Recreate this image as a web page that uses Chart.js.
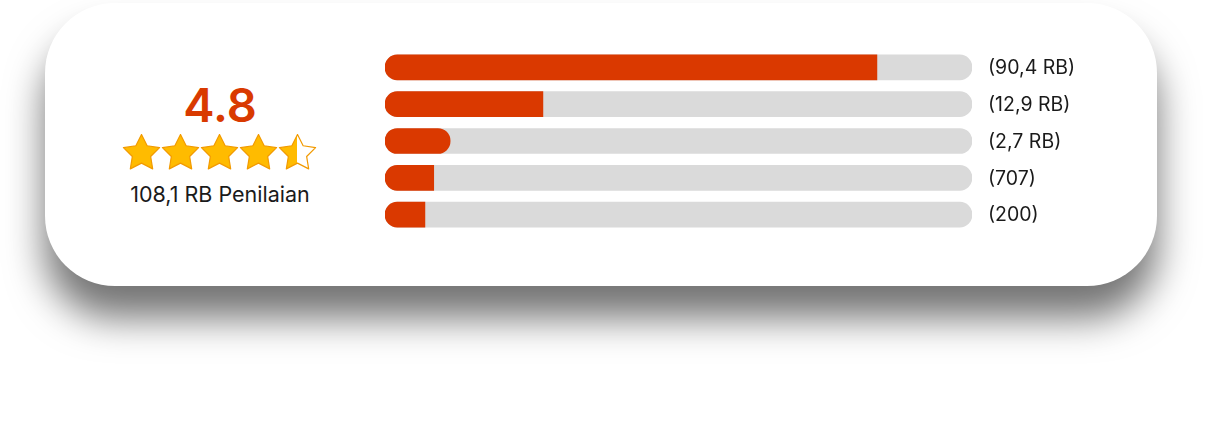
<!DOCTYPE html>
<html>
<head>
<meta charset="utf-8">
<script src="https://cdn.jsdelivr.net/npm/chart.js@4.4.1/dist/chart.umd.min.js"></script>
<style>
  html, body { margin: 0; padding: 0; background: #ffffff; }
  body { width: 1224px; height: 440px; position: relative; overflow: hidden; font-family: Inter, "Noto Sans", sans-serif; }
  #card { position: absolute; left: 45px; top: 3px; width: 1112px; height: 283px; border-radius: 70px; background: #ffffff;
          box-shadow: 0 32px 38px rgba(0,0,0,0.55); }
  #score { position: absolute; left: 100px; width: 240px; top: 81px; text-align: center; font-size: 47px; line-height: 47px; font-weight: 600; color: #D93A00; }
  #stars { position: absolute; left: 100px; top: 134px; }
  #count { position: absolute; left: 100px; width: 240px; top: 184px; text-align: center; font-size: 21.5px; line-height: 21.5px; color: #1a1a1a; }
  #chartBox { position: absolute; left: 385px; top: 49px; width: 717px; height: 184px; }
</style>
</head>
<body>
<div id="card"></div>
<div id="score"></div>
<svg id="stars" width="240" height="40" xmlns="http://www.w3.org/2000/svg"></svg>
<div id="count"></div>
<div id="chartBox"><canvas id="c"></canvas></div>
<script>
// ---- data ----
const ratingText = "4.8";
const totalText = "108,1 RB Penilaian";
const starFill = [1, 1, 1, 1, 0.5];
const categories = ["5", "4", "3", "2", "1"];
const countLabels = ["(90,4 RB)", "(12,9 RB)", "(2,7 RB)", "(707)", "(200)"];
const fillShare = [83.8, 26.9, 11.1, 8.3, 6.8];
const trackShare = [100, 100, 100, 100, 100];

// ---- left panel ----
document.getElementById('score').textContent = ratingText;
document.getElementById('count').textContent = totalText;

const svg = document.getElementById('stars');
const NS = "http://www.w3.org/2000/svg";
const R = 19, r = 9.6;
let defs = document.createElementNS(NS, 'defs');
svg.appendChild(defs);
starFill.forEach((f, i) => {
  const cx = 41.5 + i * 39, cy = 19.5;
  let pts = [];
  for (let k = 0; k < 10; k++) {
    const rad = k % 2 === 0 ? R : r;
    const a = -Math.PI / 2 + k * Math.PI / 5;
    pts.push((cx + rad * Math.cos(a)).toFixed(2) + "," + (cy + rad * Math.sin(a)).toFixed(2));
  }
  const g = document.createElementNS(NS, 'linearGradient');
  g.setAttribute('id', 'sg' + i);
  g.setAttribute('x1', '0'); g.setAttribute('x2', '1'); g.setAttribute('y1', '0'); g.setAttribute('y2', '0');
  const s1 = document.createElementNS(NS, 'stop'); s1.setAttribute('offset', f); s1.setAttribute('stop-color', '#FFBB00');
  const s2 = document.createElementNS(NS, 'stop'); s2.setAttribute('offset', f); s2.setAttribute('stop-color', '#ffffff');
  g.appendChild(s1); g.appendChild(s2); defs.appendChild(g);
  const p = document.createElementNS(NS, 'polygon');
  p.setAttribute('points', pts.join(' '));
  p.setAttribute('fill', 'url(#sg' + i + ')');
  p.setAttribute('stroke', '#F29A00');
  p.setAttribute('stroke-width', '1.2');
  p.setAttribute('stroke-linejoin', 'round');
  svg.appendChild(p);
});

// ---- bars ----
const fillColor = '#DA3900';
const trackColor = '#DADADA';

const countLabelPlugin = {
  id: 'countLabels',
  afterDatasetsDraw(chart) {
    const { ctx, chartArea, scales } = chart;
    ctx.save();
    ctx.fillStyle = '#1a1a1a';
    ctx.font = '19.5px Inter, "Noto Sans", sans-serif';
    ctx.textAlign = 'left';
    ctx.textBaseline = 'middle';
    categories.forEach((c, i) => {
      const y = scales.y.getPixelForValue(i);
      ctx.fillText(countLabels[i], chartArea.right + 16, y + 1);
    });
    ctx.restore();
  }
};

new Chart(document.getElementById('c'), {
  type: 'bar',
  data: {
    labels: categories,
    datasets: [
      {
        data: fillShare, backgroundColor: fillColor, borderSkipped: false, grouped: false, order: 0,
        barThickness: 25,
        borderRadius: (ctx) => ctx.dataIndex === 2
          ? { topLeft: 12.5, bottomLeft: 12.5, topRight: 12.5, bottomRight: 12.5 }
          : { topLeft: 12.5, bottomLeft: 12.5, topRight: 0, bottomRight: 0 }
      },
      {
        data: trackShare, backgroundColor: trackColor, borderSkipped: false, grouped: false, order: 1,
        barThickness: 25, borderRadius: 12.5
      }
    ]
  },
  options: {
    indexAxis: 'y',
    responsive: true,
    maintainAspectRatio: false,
    animation: false,
    layout: { padding: { left: 0, top: 0, bottom: 0, right: 130 } },
    plugins: { legend: { display: false }, tooltip: { enabled: false } },
    scales: {
      x: { display: false, min: 0, max: 100 },
      y: { display: false }
    }
  },
  plugins: [countLabelPlugin]
});
</script>
</body>
</html>
